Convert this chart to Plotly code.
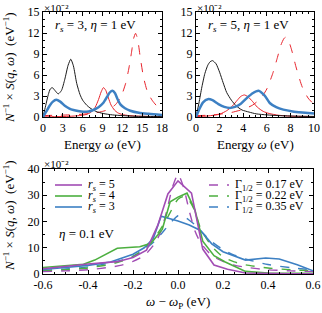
import plotly.graph_objects as go

# ---------------- Data ----------------
# Top-left panel: r_s = 3, eta = 1 eV  (values in units of 1e-2 eV^-1)
tl_black_x = [0, 0.4, 0.8, 1.1, 1.4, 1.8, 2.3, 2.8, 3.3, 3.8, 4.2, 4.6, 5.1, 5.6, 6.0, 6.6, 7.1, 8.0, 9.1, 10.5, 12, 14, 16, 18]
tl_black_y = [0, 1.6, 3.2, 4.0, 4.2, 3.8, 3.3, 3.8, 5.4, 7.4, 8.25, 7.3, 4.8, 3.2, 2.4, 1.7, 1.3, 0.8, 0.5, 0.3, 0.2, 0.1, 0.08, 0.05]

tl_blue_x = [0, 0.5, 1.0, 1.5, 2.0, 2.6, 3.3, 4.0, 4.6, 5.3, 6.1, 6.9, 7.6, 8.4, 9.1, 9.7, 10.1, 10.5, 10.9, 11.3, 11.7, 12.4, 13.2, 14.5, 16, 18]
tl_blue_y = [0, 0.8, 1.6, 2.2, 2.45, 2.2, 1.6, 1.2, 1.0, 0.85, 0.75, 0.8, 1.0, 1.4, 2.0, 2.9, 3.5, 3.75, 3.4, 2.5, 1.8, 1.25, 0.9, 0.6, 0.45, 0.3]

tl_red_x = [0, 2, 4, 5.5, 6.5, 7.3, 7.9, 8.4, 8.8, 9.15, 9.5, 9.9, 10.3, 10.8, 11.3, 12, 13, 14.5, 16, 18]
tl_red_y = [0.02, 0.05, 0.1, 0.2, 0.35, 0.7, 1.4, 2.5, 3.6, 4.2, 3.8, 2.7, 1.7, 1.0, 0.6, 0.35, 0.2, 0.12, 0.08, 0.05]

tl_reddash_x = [0, 2, 4, 6, 8, 9, 10, 11, 11.8, 12.5, 13.0, 13.4, 13.7, 14.0, 14.3, 14.7, 15.2, 15.8, 16.5, 17.2, 18]
tl_reddash_y = [0.2, 0.25, 0.3, 0.4, 0.6, 0.8, 1.1, 1.8, 2.9, 4.8, 7.0, 9.3, 11.2, 11.95, 11.2, 8.6, 5.7, 3.6, 2.4, 1.6, 1.1]

# Top-right panel: r_s = 5, eta = 1 eV
tr_black_x = [0, 0.25, 0.5, 0.75, 1.0, 1.2, 1.4, 1.7, 2.0, 2.3, 2.6, 3.0, 3.4, 3.9, 4.5, 5.1, 6.0, 7.0, 8.5, 10]
tr_black_y = [0, 2.0, 4.3, 6.2, 7.4, 7.9, 8.05, 7.6, 6.4, 4.9, 3.5, 2.4, 1.6, 1.0, 0.7, 0.45, 0.3, 0.2, 0.12, 0.08]

tr_blue_x = [0, 0.3, 0.6, 1.0, 1.4, 1.9, 2.4, 2.85, 3.3, 3.8, 4.3, 4.8, 5.3, 5.8, 6.25, 6.8, 7.4, 8.2, 9.0, 10]
tr_blue_y = [0, 1.2, 2.1, 2.55, 2.4, 1.85, 1.45, 1.3, 1.45, 1.9, 2.7, 3.4, 3.75, 3.1, 2.0, 1.4, 1.05, 0.8, 0.65, 0.5]

tr_red_x = [0, 1, 2, 2.6, 3.1, 3.5, 3.8, 4.1, 4.4, 4.8, 5.2, 5.7, 6.2, 7.0, 8.0, 10]
tr_red_y = [0.05, 0.15, 0.4, 0.9, 1.6, 2.4, 2.95, 3.15, 2.9, 2.2, 1.4, 0.8, 0.5, 0.25, 0.12, 0.06]

tr_reddash_x = [0, 1, 2, 3, 4, 4.8, 5.5, 6.0, 6.5, 6.9, 7.2, 7.45, 7.6, 7.8, 8.1, 8.5, 9.0, 9.5, 10]
tr_reddash_y = [0.2, 0.25, 0.4, 0.65, 1.1, 1.7, 2.7, 4.0, 6.2, 8.5, 10.3, 11.2, 11.4, 11.1, 9.6, 7.0, 4.3, 2.7, 1.8]

# Bottom panel: eta = 0.1 eV, omega - omega_p (eV)
b_rs5_x = [-0.6, -0.5, -0.4, -0.27, -0.2, -0.14, -0.09, -0.045, 0.0, 0.06, 0.11, 0.16, 0.22, 0.3, 0.4, 0.5, 0.6]
b_rs5_y = [2.0, 3.0, 3.8, 4.7, 6.3, 9.1, 18.5, 30.5, 35.5, 30.8, 9.5, 3.4, 1.8, 0.4, 0.2, 0.1, 0.1]

b_rs4_x = [-0.6, -0.42, -0.37, -0.27, -0.17, -0.12, -0.07, -0.035, 0.0, 0.04, 0.075, 0.11, 0.16, 0.21, 0.3, 0.4, 0.5, 0.6]
b_rs4_y = [2.5, 3.7, 5.3, 9.8, 10.4, 11.7, 17.0, 27.5, 29.3, 30.8, 24.5, 12.5, 7.0, 4.6, 1.0, 0.4, 0.3, 0.3]

b_rs3_x = [-0.6, -0.5, -0.4, -0.3, -0.2, -0.15, -0.11, -0.075, -0.04, 0.0, 0.05, 0.1, 0.15, 0.2, 0.3, 0.39, 0.45, 0.53, 0.6]
b_rs3_y = [1.7, 2.5, 3.3, 4.6, 7.5, 10.0, 13.5, 22.0, 21.2, 20.2, 18.7, 16.6, 11.5, 8.5, 5.3, 6.1, 5.7, 3.5, 1.2]

b_dash_x = [-0.6, -0.5, -0.4, -0.3, -0.25, -0.2, -0.15, -0.1, -0.075, -0.05, -0.025, 0.0, 0.025, 0.05, 0.075, 0.1, 0.15, 0.2, 0.25, 0.3, 0.4, 0.5, 0.6]
b_g017_y = [0.9, 1.2, 1.6, 2.6, 3.4, 4.8, 7.0, 12.0, 16.5, 24.0, 33.0, 38.0, 33.0, 24.0, 16.5, 12.0, 7.0, 4.8, 3.4, 2.6, 1.6, 1.2, 0.9]
b_g022_y = [1.2, 1.6, 2.3, 3.7, 4.9, 6.6, 9.6, 14.3, 17.5, 21.0, 25.0, 28.5, 29.5, 28.0, 24.0, 17.5, 10.5, 6.5, 4.6, 3.5, 2.3, 1.6, 1.2]
b_g035_y = [1.4, 1.9, 2.7, 4.2, 5.3, 6.8, 9.2, 12.8, 15.2, 17.8, 20.3, 22.2, 22.0, 20.5, 18.8, 16.5, 12.3, 9.3, 7.2, 5.7, 3.6, 2.4, 1.6]

legend_left = ["<i>r</i><sub><i>s</i></sub> = 5", "<i>r</i><sub><i>s</i></sub> = 4", "<i>r</i><sub><i>s</i></sub> = 3"]
legend_right = ["Γ<sub>1/2</sub> = 0.17 eV", "Γ<sub>1/2</sub> = 0.22 eV", "Γ<sub>1/2</sub> = 0.35 eV"]

# ---------------- Styles ----------------
BLACK = "#1a1a1a"
RED = "#e8232b"
BLUE = "#3d80c3"
PURPLE = "#a24db4"
GREEN = "#4caf3f"
FONT = "Liberation Serif, Times New Roman, serif"
W, H = 322, 313

fig = go.Figure()

def add(x, y, color, width, dash, xa, ya):
    fig.add_trace(go.Scatter(x=x, y=y, mode="lines", xaxis=xa, yaxis=ya,
                             line=dict(color=color, width=width, dash=dash, shape="spline", smoothing=0.6),
                             showlegend=False, hoverinfo="skip"))

def addlin(x, y, color, width, dash, xa, ya):
    fig.add_trace(go.Scatter(x=x, y=y, mode="lines", xaxis=xa, yaxis=ya,
                             line=dict(color=color, width=width, dash=dash),
                             showlegend=False, hoverinfo="skip"))

# top-left
add(tl_reddash_x, tl_reddash_y, RED, 1, "dash", "x", "y")
add(tl_red_x, tl_red_y, RED, 1, "solid", "x", "y")
add(tl_black_x, tl_black_y, BLACK, 1, "solid", "x", "y")
add(tl_blue_x, tl_blue_y, BLUE, 2.5, "solid", "x", "y")
# top-right
add(tr_reddash_x, tr_reddash_y, RED, 1, "dash", "x2", "y2")
add(tr_red_x, tr_red_y, RED, 1, "solid", "x2", "y2")
add(tr_black_x, tr_black_y, BLACK, 1, "solid", "x2", "y2")
add(tr_blue_x, tr_blue_y, BLUE, 2.5, "solid", "x2", "y2")
# bottom
add(b_dash_x, b_g035_y, BLUE, 1.4, "dash", "x3", "y3")
add(b_dash_x, b_g022_y, GREEN, 1.4, "dash", "x3", "y3")
add(b_dash_x, b_g017_y, PURPLE, 1.4, "dash", "x3", "y3")
addlin(b_rs3_x, b_rs3_y, BLUE, 1.6, "solid", "x3", "y3")
addlin(b_rs4_x, b_rs4_y, GREEN, 1.6, "solid", "x3", "y3")
addlin(b_rs5_x, b_rs5_y, PURPLE, 1.6, "solid", "x3", "y3")

def px_x(p):
    return p / W

def px_y(p):
    return 1 - p / H

tickfont = dict(family=FONT, size=12, color="black")

def axis(domain, rng, dtick, minor_dtick, ticktext=None, tickvals=None):
    d = dict(domain=domain, range=rng, showline=True, linecolor="black", linewidth=1,
             mirror="allticks", ticks="inside", ticklen=4, tickcolor="black", tickwidth=1,
             showgrid=False, zeroline=False, tickfont=tickfont, automargin=False,
             minor=dict(ticks="inside", ticklen=2, tickcolor="black", dtick=minor_dtick, showgrid=False))
    if tickvals is not None:
        d.update(tickmode="array", tickvals=tickvals, ticktext=ticktext)
    else:
        d.update(tick0=0, dtick=dtick)
    return d

dom_tl_x = [px_x(43), px_x(162)]
dom_tr_x = [px_x(196), px_x(314)]
dom_top_y = [px_y(117), px_y(12)]
dom_b_x = [px_x(43), px_x(313)]
dom_b_y = [px_y(274), px_y(169)]

bx_vals = [-0.6, -0.4, -0.2, 0.0, 0.2, 0.4, 0.6]
bx_text = ["-0.6", "-0.4", "-0.2", "0.0", "0.2", "0.4", "0.6"]

fig.update_layout(
    width=W, height=H, margin=dict(l=0, r=0, t=0, b=0, autoexpand=False),
    paper_bgcolor="white", plot_bgcolor="white",
    font=dict(family=FONT, size=12, color="black"),
    xaxis=axis(dom_tl_x, [0, 18], 3, 1),
    yaxis=axis(dom_top_y, [0, 15], 3, 1),
    xaxis2=axis(dom_tr_x, [0, 10], 2, 0.5),
    yaxis2=dict(axis(dom_top_y, [0, 15], 3, 1), anchor="x2"),
    xaxis3=axis(dom_b_x, [-0.6, 0.6], None, 0.05, bx_text, bx_vals),
    yaxis3=dict(axis(dom_b_y, [0, 40], 10, 5), anchor="x3"),
)
fig.layout.xaxis2.anchor = "y2"
fig.layout.xaxis3.anchor = "y3"

ann = []
def text(x, y, t, size=12, xanchor="center", yanchor="middle", angle=0):
    ann.append(dict(x=x, y=y, xref="paper", yref="paper", text=t, showarrow=False,
                    xanchor=xanchor, yanchor=yanchor, textangle=angle,
                    font=dict(family=FONT, size=size, color="black")))

ytitle = "<i>N</i><sup>−1</sup> × <i>S</i>(<i>q</i>, <i>ω</i>)  (eV<sup>−1</sup>)"
text(px_x(9), px_y(68), ytitle, 13, angle=-90)
text(px_x(9), px_y(216), ytitle, 13, angle=-90)
text(px_x(102), px_y(144), "Energy <i>ω</i> (eV)", 13)
text(px_x(255), px_y(144), "Energy <i>ω</i> (eV)", 13)
text(px_x(178), px_y(302), "<i>ω</i> − <i>ω</i><sub>P</sub> (eV)", 13)
text(px_x(42), px_y(0), "×10⁻²", 11, xanchor="left", yanchor="top")
text(px_x(195), px_y(0), "×10⁻²", 11, xanchor="left", yanchor="top")
text(px_x(42), px_y(156), "×10⁻²", 11, xanchor="left", yanchor="top")
text(px_x(95), px_y(25), "<i>r</i><sub><i>s</i></sub> = 3, <i>η</i> = 1 eV", 13)
text(px_x(248), px_y(25), "<i>r</i><sub><i>s</i></sub> = 5, <i>η</i> = 1 eV", 13)
text(px_x(57), px_y(233), "<i>η</i> = 0.1 eV", 13, xanchor="left")

shapes = []
rows = [185, 196, 207]
for r, lab, col in zip(rows, legend_left, [PURPLE, GREEN, BLUE]):
    shapes.append(dict(type="line", xref="paper", yref="paper", x0=px_x(55), x1=px_x(82),
                       y0=px_y(r), y1=px_y(r), line=dict(color=col, width=1.6)))
    text(px_x(86), px_y(r), lab, 12, xanchor="left")
for r, lab, col in zip(rows, legend_right, [PURPLE, GREEN, BLUE]):
    shapes.append(dict(type="line", xref="paper", yref="paper", x0=px_x(209), x1=px_x(229),
                       y0=px_y(r), y1=px_y(r), line=dict(color=col, width=1.4, dash="dash")))
    text(px_x(233), px_y(r), lab, 12, xanchor="left")

fig.update_layout(annotations=ann, shapes=shapes)
fig.write_html("out.html", config={"displayModeBar": False},
               post_script="document.body.style.margin='0';document.body.style.overflow='hidden';")
